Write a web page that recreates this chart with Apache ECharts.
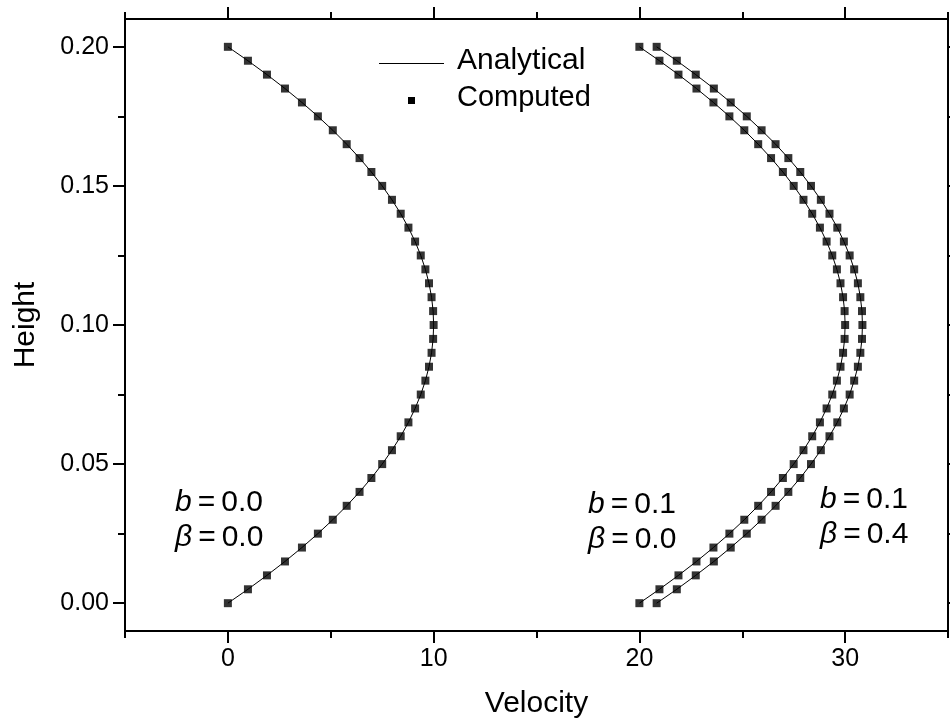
<!DOCTYPE html>
<html>
<head>
<meta charset="utf-8">
<script src="https://cdn.jsdelivr.net/npm/echarts@6/dist/echarts.min.js"></script>
<style>html,body{margin:0;padding:0;background:#fff;}#c{width:950px;height:727px;}</style>
</head>
<body>
<div id="c"></div>
<script>
// Heights (y) of the sampled points
var heights = [0.000,0.005,0.010,0.015,0.020,0.025,0.030,0.035,0.040,0.045,0.050,0.055,0.060,0.065,0.070,0.075,0.080,0.085,0.090,0.095,0.100,0.105,0.110,0.115,0.120,0.125,0.130,0.135,0.140,0.145,0.150,0.155,0.160,0.165,0.170,0.175,0.180,0.185,0.190,0.195,0.200];
// Velocity, b = 0.0, beta = 0.0
var velB0 = [0,0.975,1.9,2.775,3.6,4.375,5.1,5.775,6.4,6.975,7.5,7.975,8.4,8.775,9.1,9.375,9.6,9.775,9.9,9.975,10,9.975,9.9,9.775,9.6,9.375,9.1,8.775,8.4,7.975,7.5,6.975,6.4,5.775,5.1,4.375,3.6,2.775,1.9,0.975,0];
// Velocity, b = 0.1, beta = 0.0
var velB1 = [20,20.975,21.9,22.775,23.6,24.375,25.1,25.775,26.4,26.975,27.5,27.975,28.4,28.775,29.1,29.375,29.6,29.775,29.9,29.975,30,29.975,29.9,29.775,29.6,29.375,29.1,28.775,28.4,27.975,27.5,26.975,26.4,25.775,25.1,24.375,23.6,22.775,21.9,20.975,20];
// Velocity, b = 0.1, beta = 0.4
var velB1b4 = [20.84,21.82,22.74,23.62,24.44,25.22,25.94,26.62,27.24,27.82,28.34,28.82,29.24,29.62,29.94,30.22,30.44,30.62,30.74,30.82,30.84,30.82,30.74,30.62,30.44,30.22,29.94,29.62,29.24,28.82,28.34,27.82,27.24,26.62,25.94,25.22,24.44,23.62,22.74,21.82,20.84];
// Tick values
var xMajor = [0,10,20,30];
var xMinor = [-5,5,15,25,35];
var yMajor = [0,0.05,0.10,0.15,0.20];
var yMinor = [0.025,0.075,0.125,0.175];

function pairs(v){ return v.map(function(x,i){ return [x, heights[i]]; }); }

var FONT = '"Liberation Sans", Arial, sans-serif';
var BLK = '#000';

function xAx(pos, ticks, len, line, labels, extra){
  var a = {
    type:'value', position:pos, min:-5, max:35,
    axisLine:{show:line, onZero:false, lineStyle:{color:BLK, width:2}},
    axisTick:{show:true, inside:false, length:len, customValues:ticks, lineStyle:{color:BLK, width:2}},
    axisLabel:labels ? {show:true, customValues:xMajor, color:BLK, fontSize:25, fontFamily:FONT, margin:16} : {show:false},
    splitLine:{show:false}
  };
  if (extra) for (var k in extra) a[k]=extra[k];
  return a;
}
function yAx(pos, ticks, len, line, labels, extra){
  var a = {
    type:'value', position:pos, min:-0.01, max:0.21,
    axisLine:{show:line, onZero:false, lineStyle:{color:BLK, width:2}},
    axisTick:{show:true, inside:false, length:len, customValues:ticks, lineStyle:{color:BLK, width:2}},
    axisLabel:labels ? {show:true, customValues:yMajor, color:BLK, fontSize:25, fontFamily:FONT, margin:16,
      formatter:function(v){ return v.toFixed(2); }} : {show:false},
    splitLine:{show:false}
  };
  if (extra) for (var k in extra) a[k]=extra[k];
  return a;
}

var rich = {
  i:{fontStyle:'italic', fontSize:30, fontFamily:FONT, fill:BLK},
  n:{fontSize:30, fontFamily:FONT, fill:BLK}
};
function note(x, y, txt){
  return {type:'text', x:x, y:y, z:100, style:{text:txt, rich:rich, align:'left', verticalAlign:'middle', fontSize:30, fontFamily:FONT, fill:BLK}};
}

var chart = echarts.init(document.getElementById('c'));
chart.setOption({
  animation:false,
  backgroundColor:'#fff',
  grid:{left:125, right:2, top:19, bottom:96, containLabel:false},
  xAxis:[
    xAx('bottom', xMajor, 12, true, true, {name:'Velocity', nameLocation:'middle', nameGap:58, nameTextStyle:{color:BLK, fontSize:30, fontFamily:FONT}}),
    xAx('bottom', xMinor, 7, false, false),
    xAx('top', xMajor, 12, true, false),
    xAx('top', xMinor, 7, false, false)
  ],
  yAxis:[
    yAx('left', yMajor, 12, true, true, {name:'Height', nameLocation:'middle', nameGap:84, nameRotate:90, nameTextStyle:{color:BLK, fontSize:30, fontFamily:FONT}}),
    yAx('left', yMinor, 7, false, false),
    yAx('right', yMajor, 12, true, false),
    yAx('right', yMinor, 7, false, false)
  ],
  series:[
    {name:'Analytical', type:'line', data:pairs(velB0), symbol:'none', lineStyle:{color:BLK, width:1}, z:2},
    {name:'Analytical', type:'line', data:pairs(velB1), symbol:'none', lineStyle:{color:BLK, width:1}, z:2},
    {name:'Analytical', type:'line', data:pairs(velB1b4), symbol:'none', lineStyle:{color:BLK, width:1}, z:2},
    {name:'Computed', type:'scatter', data:pairs(velB0), symbol:'rect', symbolSize:8, itemStyle:{color:BLK}, z:3},
    {name:'Computed', type:'scatter', data:pairs(velB1), symbol:'rect', symbolSize:8, itemStyle:{color:BLK}, z:3},
    {name:'Computed', type:'scatter', data:pairs(velB1b4), symbol:'rect', symbolSize:8, itemStyle:{color:BLK}, z:3}
  ],
  graphic:[
    {type:'line', shape:{x1:379, y1:63.5, x2:444, y2:63.5}, style:{stroke:BLK, lineWidth:1}, z:100},
    {type:'rect', shape:{x:408, y:97, width:7, height:7}, style:{fill:BLK}, z:100},
    {type:'text', x:457, y:61, z:100, style:{text:'Analytical', fontSize:30, fontFamily:FONT, fill:BLK, verticalAlign:'middle'}},
    {type:'text', x:457, y:98, z:100, style:{text:'Computed', fontSize:29, fontFamily:FONT, fill:BLK, verticalAlign:'middle'}},
    note(175, 503, '{i|b}{n|\u2009=\u20090.0}'),
    note(175, 538, '{i|\u03B2}{n|\u2009=\u20090.0}'),
    note(588, 505, '{i|b}{n|\u2009=\u20090.1}'),
    note(588, 540, '{i|\u03B2}{n|\u2009=\u20090.0}'),
    note(820, 500, '{i|b}{n|\u2009=\u20090.1}'),
    note(820, 535, '{i|\u03B2}{n|\u2009=\u20090.4}')
  ]
});
</script>
</body>
</html>
